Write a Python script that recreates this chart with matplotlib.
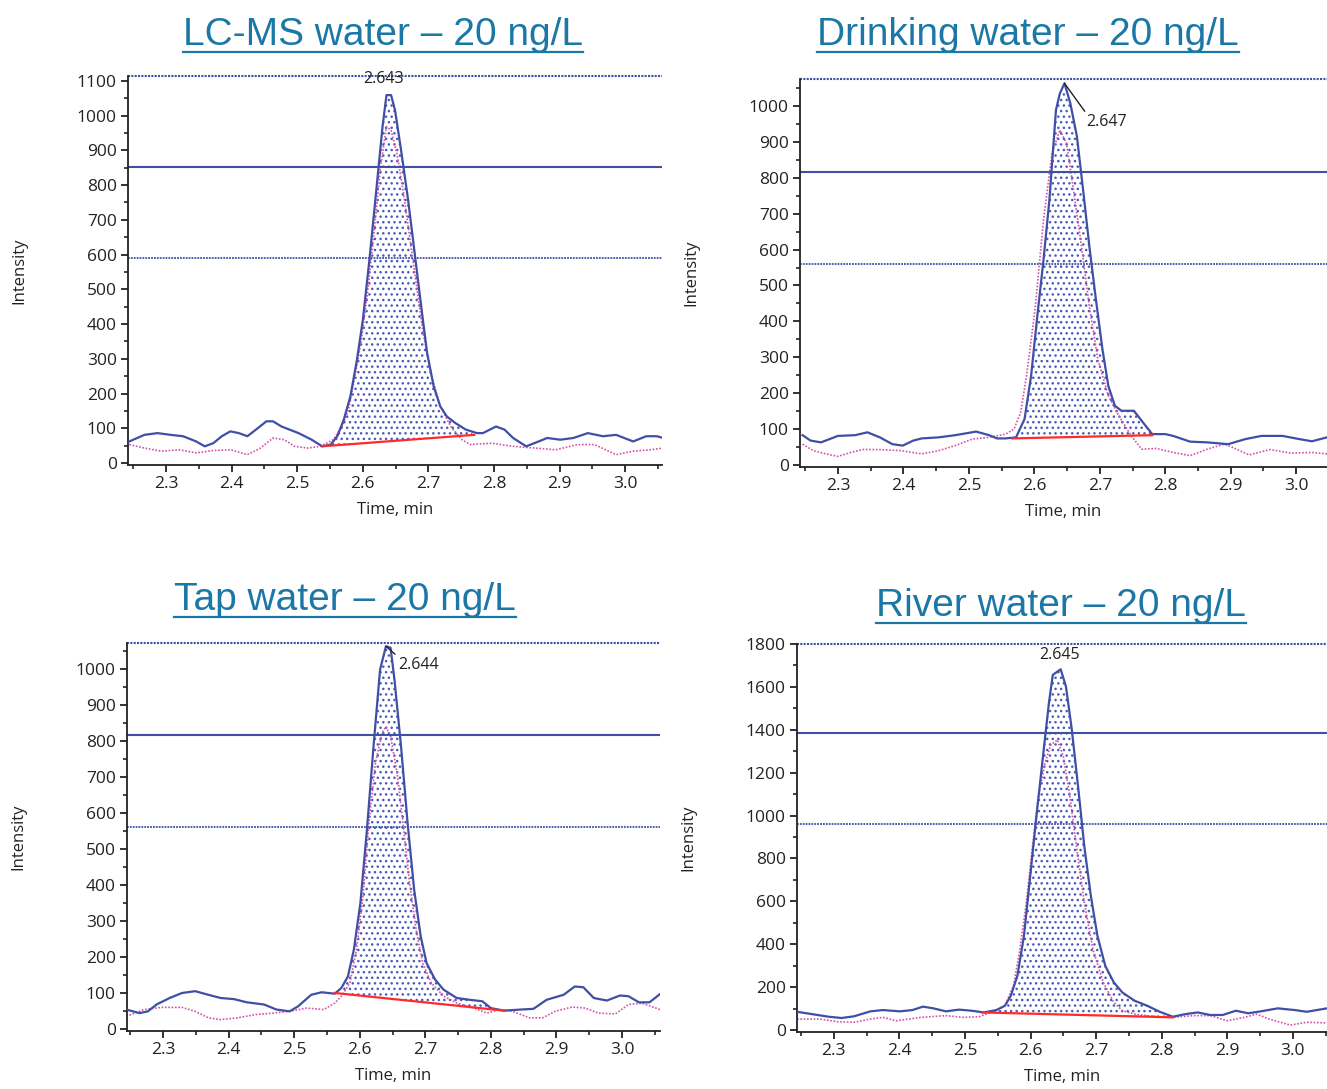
import numpy as np
import matplotlib
matplotlib.use("Agg")
import matplotlib.pyplot as plt
from matplotlib.ticker import MultipleLocator, AutoMinorLocator
from matplotlib.lines import Line2D

plt.rcParams["font.family"] = ["Open Sans", "DejaVu Sans"]
plt.rcParams["hatch.linewidth"] = 1.0

BLUE = "#3f4fa6"
PINK = "#d452a8"
RED = "#ff2a2a"
TITLE_COLOR = "#1b78a6"

# ---- panel 1: LC-MS water ----
lcms_t = [2.244, 2.267, 2.287, 2.307, 2.326, 2.346, 2.359, 2.372, 2.385, 2.398, 2.411, 2.424,
          2.437, 2.453, 2.463, 2.476, 2.502, 2.522, 2.538, 2.551, 2.561, 2.571, 2.581, 2.591,
          2.600, 2.610, 2.620, 2.630, 2.636, 2.643, 2.649, 2.659, 2.669, 2.679, 2.689, 2.698,
          2.708, 2.718, 2.728, 2.741, 2.757, 2.774, 2.783, 2.803, 2.816, 2.829, 2.849, 2.868,
          2.881, 2.901, 2.921, 2.943, 2.966, 2.986, 3.012, 3.032, 3.048, 3.058]
lcms_i = [62, 81, 86, 81, 77, 62, 48, 57, 77, 91, 86, 77,
          96, 120, 120, 105, 86, 67, 48, 53, 77, 125, 192, 297,
          412, 585, 776, 968, 1059, 1059, 1016, 891, 757, 604, 450, 316,
          220, 163, 134, 115, 96, 86, 86, 105, 96, 72, 48, 62,
          72, 67, 72, 86, 77, 81, 62, 77, 77, 72]
lcms_ref_t = [2.244, 2.267, 2.293, 2.320, 2.346, 2.372, 2.398, 2.424, 2.444, 2.463, 2.480, 2.496,
              2.516, 2.535, 2.555, 2.568, 2.578, 2.587, 2.597, 2.607, 2.617, 2.627, 2.636, 2.643,
              2.652, 2.662, 2.672, 2.682, 2.692, 2.705, 2.718, 2.734, 2.751, 2.764, 2.796, 2.829,
              2.862, 2.894, 2.927, 2.953, 2.986, 3.012, 3.038, 3.058]
lcms_ref_i = [53, 43, 34, 38, 29, 36, 38, 24, 43, 72, 67, 48,
              43, 48, 67, 105, 153, 240, 345, 489, 661, 853, 968, 958,
              891, 776, 642, 508, 374, 249, 163, 105, 67, 53, 57, 48,
              43, 38, 53, 53, 24, 34, 38, 43]
lcms_base_t = [2.538, 2.770]
lcms_base_i = [48, 81]
lcms_hlines = [852, 590]

# ---- panel 2: Drinking water ----
drink_t = [2.246, 2.258, 2.274, 2.300, 2.326, 2.345, 2.364, 2.383, 2.399, 2.415, 2.428, 2.454,
           2.479, 2.511, 2.531, 2.543, 2.556, 2.572, 2.585, 2.595, 2.604, 2.614, 2.623, 2.633,
           2.639, 2.646, 2.655, 2.665, 2.675, 2.684, 2.694, 2.704, 2.713, 2.723, 2.733, 2.752,
           2.764, 2.780, 2.800, 2.812, 2.838, 2.864, 2.896, 2.922, 2.947, 2.979, 3.005, 3.024,
           3.047]
drink_i = [83, 68, 63, 81, 83, 91, 77, 58, 54, 68, 74, 77,
           83, 93, 83, 74, 74, 77, 128, 248, 406, 572, 739, 989,
           1035, 1063, 1007, 915, 757, 609, 461, 322, 220, 165, 151, 151,
           123, 86, 86, 81, 65, 63, 58, 72, 81, 81, 72, 66,
           77]
drink_ref_t = [2.246, 2.262, 2.281, 2.300, 2.320, 2.338, 2.364, 2.396, 2.428, 2.454, 2.479, 2.505,
               2.531, 2.556, 2.569, 2.579, 2.588, 2.601, 2.614, 2.627, 2.639, 2.649, 2.659, 2.672,
               2.684, 2.697, 2.713, 2.729, 2.748, 2.764, 2.786, 2.812, 2.838, 2.864, 2.890, 2.903,
               2.928, 2.960, 2.992, 3.024, 3.047]
drink_ref_i = [58, 40, 31, 24, 35, 43, 43, 40, 31, 40, 54, 72,
               77, 86, 100, 146, 248, 433, 683, 869, 933, 896, 776, 609,
               442, 294, 193, 137, 81, 44, 46, 35, 26, 44, 58, 49,
               28, 43, 33, 35, 31]
drink_base_t = [2.566, 2.780]
drink_base_i = [74, 83]
drink_hlines = [816, 560]

# ---- panel 3: Tap water ----
tap_t = [2.244, 2.264, 2.277, 2.290, 2.310, 2.329, 2.349, 2.369, 2.388, 2.408, 2.428, 2.454,
         2.473, 2.493, 2.506, 2.526, 2.542, 2.562, 2.572, 2.582, 2.591, 2.601, 2.611, 2.621,
         2.631, 2.640, 2.647, 2.653, 2.663, 2.673, 2.683, 2.693, 2.702, 2.715, 2.728, 2.748,
         2.768, 2.787, 2.800, 2.820, 2.846, 2.865, 2.885, 2.911, 2.928, 2.941, 2.957, 2.977,
         2.997, 3.010, 3.026, 3.042, 3.058]
tap_i = [54, 44, 49, 68, 86, 100, 105, 95, 86, 83, 74, 68,
         54, 49, 63, 95, 102, 98, 114, 146, 220, 350, 554, 785,
         998, 1063, 1059, 970, 785, 572, 387, 257, 183, 137, 109, 86,
         81, 77, 58, 51, 54, 56, 81, 95, 118, 116, 86, 79,
         93, 91, 74, 74, 97]
tap_ref_t = [2.244, 2.271, 2.297, 2.329, 2.349, 2.369, 2.388, 2.414, 2.441, 2.467, 2.493, 2.519,
             2.545, 2.562, 2.572, 2.585, 2.595, 2.605, 2.614, 2.624, 2.634, 2.640, 2.647, 2.657,
             2.666, 2.676, 2.686, 2.696, 2.709, 2.728, 2.748, 2.774, 2.794, 2.813, 2.833, 2.859,
             2.879, 2.898, 2.924, 2.944, 2.964, 2.990, 3.010, 3.030, 3.058]
tap_ref_i = [35, 54, 60, 60, 49, 31, 26, 31, 40, 44, 49, 58,
             54, 72, 91, 128, 220, 368, 572, 739, 822, 840, 813, 711,
             572, 405, 276, 183, 128, 91, 72, 58, 44, 54, 49, 31,
             31, 49, 61, 58, 44, 42, 68, 72, 54]
tap_base_t = [2.562, 2.820]
tap_base_i = [100, 51]
tap_hlines = [817, 561]

# ---- panel 4: River water ----
river_t = [2.244, 2.267, 2.292, 2.312, 2.331, 2.356, 2.375, 2.401, 2.420, 2.436, 2.452, 2.471,
           2.491, 2.510, 2.529, 2.548, 2.561, 2.570, 2.580, 2.590, 2.599, 2.609, 2.619, 2.628,
           2.634, 2.646, 2.654, 2.663, 2.673, 2.682, 2.692, 2.702, 2.714, 2.727, 2.740, 2.759,
           2.778, 2.797, 2.817, 2.836, 2.855, 2.874, 2.893, 2.913, 2.932, 2.951, 2.977, 3.003,
           3.021, 3.052]
river_i = [85, 74, 62, 56, 64, 87, 93, 87, 93, 109, 101, 87,
           95, 90, 82, 93, 113, 160, 253, 439, 702, 997, 1276, 1524,
           1656, 1682, 1602, 1400, 1121, 857, 625, 439, 299, 222, 175, 136,
           113, 85, 62, 74, 82, 70, 70, 90, 78, 87, 101, 93,
           85, 101]
river_ref_t = [2.244, 2.279, 2.305, 2.331, 2.356, 2.375, 2.395, 2.433, 2.471, 2.497, 2.522, 2.548,
               2.561, 2.574, 2.583, 2.593, 2.603, 2.612, 2.622, 2.631, 2.641, 2.650, 2.660, 2.670,
               2.682, 2.695, 2.711, 2.727, 2.740, 2.759, 2.785, 2.817, 2.849, 2.874, 2.900, 2.926,
               2.945, 2.964, 2.996, 3.021, 3.052]
river_ref_i = [51, 51, 39, 36, 51, 59, 43, 59, 67, 59, 62, 93,
               113, 206, 361, 578, 857, 1090, 1245, 1330, 1353, 1276, 1090, 857,
               594, 377, 222, 129, 90, 74, 64, 59, 67, 67, 43, 59,
               74, 51, 23, 36, 33]
river_base_t = [2.526, 2.817]
river_base_i = [82, 59]
river_hlines = [1385, 961]

titles = ["LC-MS water \u2013 20 ng/L", "Drinking water \u2013 20 ng/L",
          "Tap water \u2013 20 ng/L", "River water \u2013 20 ng/L"]
peak_labels = ["2.643", "2.647", "2.644", "2.645"]

W, H = 1327, 1089
fig = plt.figure(figsize=(W / 100, H / 100), dpi=100)


def px_axes(left, top, right, bottom):
    return fig.add_axes([left / W, 1 - bottom / H, (right - left) / W, (bottom - top) / H])


def draw_panel(ax, t, inten, rt, ri, bt, bi, hlines, xlim, ylim, ymajor):
    t = np.array(t)
    inten = np.array(inten)
    ax.set_xlim(*xlim)
    ax.set_ylim(*ylim)

    # integrated area between trace and baseline
    mask = (t >= bt[0]) & (t <= bt[1])
    bx = np.concatenate([[bt[0]], t[mask], [bt[1]]])
    by = np.concatenate([[bi[0]], inten[mask], [bi[1]]])
    base_line = np.interp(bx, bt, bi)
    ax.fill_between(bx, base_line, by, facecolor="white", edgecolor="#4a5ab8",
                    hatch="...", linewidth=0, zorder=1)

    ax.plot(rt, ri, color=PINK, lw=1.2, ls=(0, (1, 1)), zorder=2)
    ax.plot(t, inten, color=BLUE, lw=1.6, zorder=3)
    ax.plot(bt, bi, color=RED, lw=1.6, zorder=4)

    ax.axhline(hlines[0], color=BLUE, lw=1.5, zorder=2)
    ax.axhline(hlines[1], color=BLUE, lw=1.3, ls=(0, (1, 0.6)), zorder=2)
    ax.axhline(ylim[1], color=BLUE, lw=1.5, ls=(0, (1, 0.6)), zorder=2, clip_on=False)

    ax.spines["top"].set_visible(False)
    ax.spines["right"].set_visible(False)
    ax.spines["left"].set_color("#222222")
    ax.spines["bottom"].set_color("#222222")
    ax.spines["left"].set_linewidth(1.3)
    ax.spines["bottom"].set_linewidth(1.3)

    ax.xaxis.set_major_locator(MultipleLocator(0.1))
    ax.xaxis.set_minor_locator(MultipleLocator(0.05))
    ax.yaxis.set_major_locator(MultipleLocator(ymajor))
    ax.yaxis.set_minor_locator(AutoMinorLocator(2))
    ax.xaxis.set_major_formatter(matplotlib.ticker.FormatStrFormatter("%.1f"))
    ax.tick_params(which="major", length=5, width=1.3, labelsize=12.5, colors="#222222", pad=3)
    ax.tick_params(which="minor", length=3, width=1.2, colors="#222222")
    ax.set_xlabel("Time, min", fontsize=12, color="#222222", labelpad=7)
    ax.set_ylabel("Intensity", fontsize=12, color="#222222", labelpad=36)
    return t, inten


panels = [
    (px_axes(128, 76, 662, 465), lcms_t, lcms_i, lcms_ref_t, lcms_ref_i, lcms_base_t, lcms_base_i,
     lcms_hlines, (2.242, 3.056), (-5.8, 1114), 100),
    (px_axes(800, 79, 1327, 467), drink_t, drink_i, drink_ref_t, drink_ref_i, drink_base_t, drink_base_i,
     drink_hlines, (2.242, 3.047), (-5.6, 1075), 100),
    (px_axes(127, 643, 660, 1031), tap_t, tap_i, tap_ref_t, tap_ref_i, tap_base_t, tap_base_i,
     tap_hlines, (2.245, 3.058), (-5.6, 1072), 100),
    (px_axes(797, 644, 1327, 1032), river_t, river_i, river_ref_t, river_ref_i, river_base_t, river_base_i,
     river_hlines, (2.244, 3.052), (-9.3, 1800), 200),
]

axes = []
for p in panels:
    ax = p[0]
    t, inten = draw_panel(*p)
    axes.append((ax, t, inten))

# peak labels
ax, t, inten = axes[0]
k = int(np.argmax(inten))
ax.text(t[k] - 0.004, inten[k] + 22, peak_labels[0], ha="center", va="bottom", fontsize=11.5, color="#222222")

ax, t, inten = axes[1]
k = int(np.argmax(inten))
ax.annotate(peak_labels[1], xy=(t[k], inten[k]), xytext=(t[k] + 0.034, 955),
            ha="left", va="center", fontsize=11.5, color="#222222",
            arrowprops=dict(arrowstyle="-", color="#222222", lw=1.0, shrinkA=0, shrinkB=0,
                            relpos=(0.0, 1.0)))

ax, t, inten = axes[2]
k = int(np.argmax(inten))
ax.annotate(peak_labels[2], xy=(t[k], inten[k]), xytext=(t[k] + 0.018, 1012),
            ha="left", va="center", fontsize=11.5, color="#222222",
            arrowprops=dict(arrowstyle="-", color="#222222", lw=1.0, shrinkA=0, shrinkB=0,
                            relpos=(0.0, 1.0)))

ax, t, inten = axes[3]
k = int(np.argmax(inten))
ax.text(t[k] - 0.002, inten[k] + 30, peak_labels[3], ha="center", va="bottom", fontsize=11.5, color="#222222")

# titles with underline
title_pos = [(383, 35), (1028, 35), (345, 600), (1061, 606)]
title_texts = []
for (x, y), s in zip(title_pos, titles):
    tx = fig.text(x / W, 1 - y / H, s, ha="center", va="center", fontsize=28,
                  color=TITLE_COLOR, family=["Liberation Sans", "DejaVu Sans"])
    title_texts.append(tx)

fig.canvas.draw()
renderer = fig.canvas.get_renderer()
for tx in title_texts:
    bb = tx.get_window_extent(renderer)
    yline = bb.y0 + 1
    fig.add_artist(Line2D([bb.x0 / W, bb.x1 / W], [yline / H, yline / H],
                          color=TITLE_COLOR, lw=1.6, transform=fig.transFigure))

fig.savefig("out.png", dpi=100)
